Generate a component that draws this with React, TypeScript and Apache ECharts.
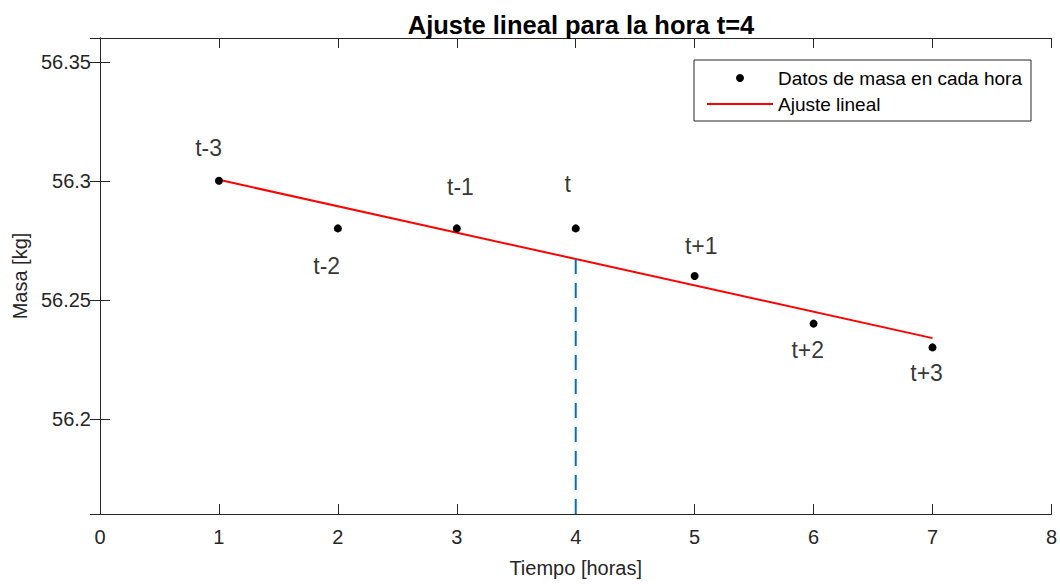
import React, { useEffect, useRef } from "react";
import * as echarts from "echarts";

// Data
const hours = [1, 2, 3, 4, 5, 6, 7];
const masses = [56.3, 56.28, 56.28, 56.28, 56.26, 56.24, 56.23];
const fitX = [1, 7];
const fitY = [56.3004, 56.2339];
const markerX = [4, 4];
const markerY = [56.16, 56.2671];
const labelTexts = ["t-3", "t-2", "t-1", "t", "t+1", "t+2", "t+3"];
const labelX = [0.913, 1.906, 3.031, 3.932, 5.055, 5.951, 6.95];
const labelY = [56.3136, 56.2642, 56.2974, 56.2986, 56.2726, 56.2288, 56.2191];
const yTickStep = 0.05;
const xMin = 0;
const xMax = 8;
const yMin = 56.16;
const yMax = 56.36;

const FONT = "Liberation Sans, Arial, Helvetica, sans-serif";
const AX = "#262626";

export default function App() {
  const ref = useRef<HTMLDivElement>(null);
  useEffect(() => {
    document.body.style.margin = "0";
    const chart = echarts.init(ref.current!, null, { renderer: "svg" });
    const axisLine = { show: true, lineStyle: { color: AX, width: 1 } };
    const tick = { show: true, inside: true, length: 10, lineStyle: { color: AX, width: 1 } };
    chart.setOption({
      animation: false,
      backgroundColor: "#fff",
      textStyle: { fontFamily: FONT },
      title: {
        text: "Ajuste lineal para la hora t=4",
        left: 576,
        textAlign: "center",
        top: 7,
        textStyle: { fontFamily: FONT, fontSize: 25.5, fontWeight: "bold", color: "#000" },
      },
      grid: { left: 100, right: 7, top: 38, bottom: 70 },
      legend: {
        data: [
          { name: "Datos de masa en cada hora" },
          { name: "Ajuste lineal", itemStyle: { color: "rgba(0,0,0,0)", opacity: 0, borderWidth: 0 } },
        ],
        orient: "vertical",
        left: 694,
        top: 60,
        padding: [7, 9, 6, 12],
        itemWidth: 66,
        itemHeight: 8,
        itemGap: 4,
        borderColor: AX,
        borderWidth: 1,
        backgroundColor: "#fff",
        textStyle: { fontFamily: FONT, fontSize: 19, color: "#000", lineHeight: 22 },
      },
      xAxis: [
        {
          type: "value",
          min: xMin,
          max: xMax,
          interval: 1,
          name: "Tiempo [horas]",
          nameLocation: "middle",
          nameGap: 44,
          nameTextStyle: { fontFamily: FONT, fontSize: 20, color: AX },
          axisLine,
          axisTick: tick,
          splitLine: { show: false },
          axisLabel: { fontFamily: FONT, fontSize: 20, color: AX, margin: 13 },
        },
        {
          type: "value",
          position: "top",
          min: xMin,
          max: xMax,
          interval: 1,
          axisLine,
          axisTick: tick,
          splitLine: { show: false },
          axisLabel: { show: false },
        },
      ],
      yAxis: [
        {
          type: "value",
          min: yMin,
          max: yMax,
          splitNumber: 4,
          minInterval: yTickStep,
          maxInterval: yTickStep,
          name: "Masa [kg]",
          nameLocation: "middle",
          nameGap: 66,
          nameTextStyle: { fontFamily: FONT, fontSize: 20, color: AX },
          axisLine,
          axisTick: tick,
          splitLine: { show: false },
          axisLabel: {
            fontFamily: FONT,
            fontSize: 20,
            color: AX,
            margin: 9,
            showMinLabel: false,
            showMaxLabel: false,
            formatter: (v: number) => String(+v.toFixed(2)),
          },
        },
        {
          type: "value",
          position: "right",
          min: yMin,
          max: yMax,
          splitNumber: 4,
          minInterval: yTickStep,
          maxInterval: yTickStep,
          axisLine,
          axisTick: tick,
          splitLine: { show: false },
          axisLabel: { show: false },
        },
      ],
      series: [
        {
          name: "Ajuste lineal",
          type: "line",
          data: fitX.map((x, i) => [x, fitY[i]]),
          symbol: "none",
          lineStyle: { color: "#ff0000", width: 2 },
          itemStyle: { color: "#ff0000" },
          z: 2,
        },
        {
          name: "Datos de masa en cada hora",
          type: "scatter",
          data: hours.map((x, i) => [x, masses[i]]),
          symbol: "circle",
          symbolSize: 8,
          itemStyle: { color: "#000", opacity: 1 },
          z: 3,
        },
        {
          name: "marker",
          type: "line",
          data: markerX.map((x, i) => [x, markerY[i]]),
          symbol: "none",
          lineStyle: { color: "#0072BD", width: 2, type: [15, 9] },
          z: 2,
        },
        {
          name: "labels",
          type: "scatter",
          silent: true,
          symbol: "circle",
          symbolSize: 1,
          itemStyle: { color: "transparent" },
          data: labelTexts.map((t, i) => ({ name: t, value: [labelX[i], labelY[i]] })),
          label: {
            show: true,
            position: "inside",
            formatter: (p: any) => p.name,
            fontFamily: FONT,
            fontSize: 23,
            color: "#000",
          },
          z: 4,
        },
      ],
    });
    return () => chart.dispose();
  }, []);
  return <div ref={ref} style={{ width: 1060, height: 584 }} />;
}
